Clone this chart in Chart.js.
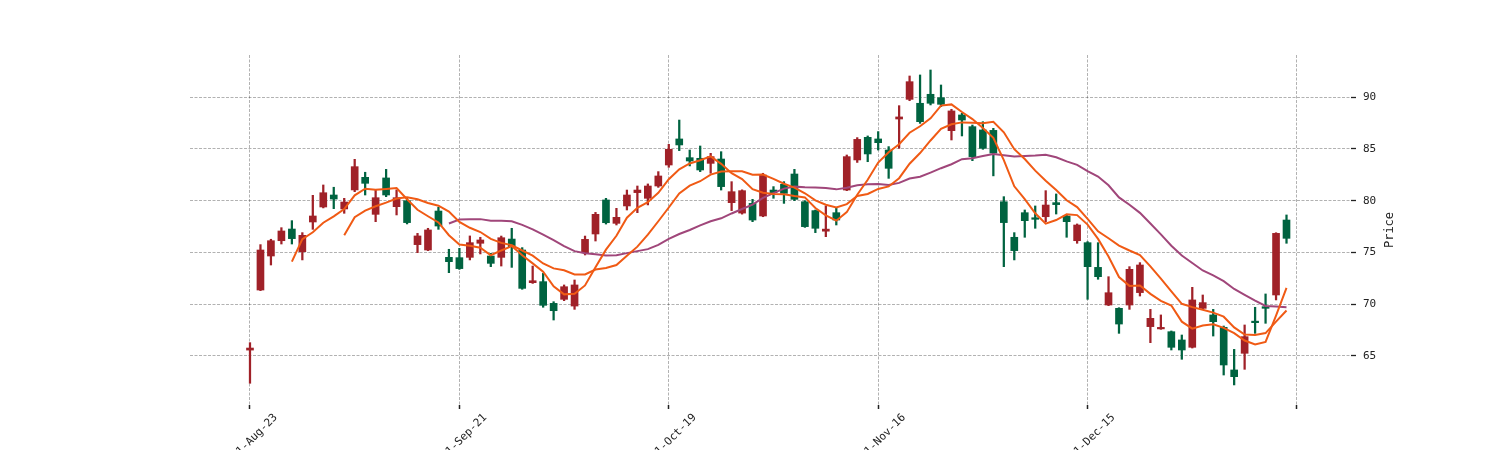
<!DOCTYPE html>
<html><head><meta charset="utf-8">
<script src="https://cdn.jsdelivr.net/npm/chart.js@4"></script>
<style>html,body{margin:0;padding:0;background:#fff}#wrap{width:1500px;height:450px;position:relative}</style>
</head><body><div id="wrap"><canvas id="c"></canvas></div>
<script>
const dates = [
'2021-08-23','2021-08-24','2021-08-25','2021-08-26','2021-08-27','2021-08-30','2021-08-31',
'2021-09-01','2021-09-02','2021-09-03','2021-09-07','2021-09-08','2021-09-09','2021-09-10','2021-09-13','2021-09-14','2021-09-15','2021-09-16','2021-09-17','2021-09-20','2021-09-21','2021-09-22','2021-09-23','2021-09-24','2021-09-27','2021-09-28','2021-09-29','2021-09-30',
'2021-10-01','2021-10-04','2021-10-05','2021-10-06','2021-10-07','2021-10-08','2021-10-11','2021-10-12','2021-10-13','2021-10-14','2021-10-15','2021-10-18','2021-10-19','2021-10-20','2021-10-21','2021-10-22','2021-10-25','2021-10-26','2021-10-27','2021-10-28','2021-10-29',
'2021-11-01','2021-11-02','2021-11-03','2021-11-04','2021-11-05','2021-11-08','2021-11-09','2021-11-10','2021-11-11','2021-11-12','2021-11-15','2021-11-16','2021-11-17','2021-11-18','2021-11-19','2021-11-22','2021-11-23','2021-11-24','2021-11-26','2021-11-29','2021-11-30',
'2021-12-01','2021-12-02','2021-12-03','2021-12-06','2021-12-07','2021-12-08','2021-12-09','2021-12-10','2021-12-13','2021-12-14','2021-12-15','2021-12-16','2021-12-17','2021-12-20','2021-12-21','2021-12-22','2021-12-23','2021-12-27','2021-12-28','2021-12-29','2021-12-30','2021-12-31',
'2022-01-03','2022-01-04','2022-01-05','2022-01-06','2022-01-07','2022-01-10','2022-01-11','2022-01-12'];

const opens = [65.55,71.36,74.65,76.13,77.26,75.07,77.94,79.39,80.55,79.2,
81.04,82.26,78.68,82.20,79.42,80.0,75.75,75.23,79.0,74.52,
74.49,74.52,75.88,74.65,74.52,76.29,75.23,72.07,72.17,70.07,
70.46,69.81,74.97,76.78,80.07,77.81,79.49,80.78,80.23,81.42,
83.45,85.97,84.16,84.10,83.61,84.03,79.81,78.8,79.74,78.52,
81.03,81.58,82.58,79.9,79.04,77.05,78.84,81.03,83.94,86.13,
85.97,84.9,87.9,89.8,89.42,90.29,89.96,86.77,88.29,87.16,
86.84,86.8,79.9,76.46,78.84,78.35,78.45,79.81,78.52,76.13,
75.94,73.55,69.91,69.59,69.91,71.11,67.82,67.6,67.33,66.53,
65.82,69.59,68.95,67.75,63.63,65.24,68.35,69.75,70.88,78.13];
const highs = [66.27,75.75,76.27,77.39,78.07,76.91,80.52,81.52,81.3,80.23,
84.0,82.75,81.04,83.03,81.04,80.23,76.84,77.33,79.36,75.30,
75.39,76.59,76.46,74.91,76.58,77.33,75.46,73.68,72.97,70.23,
71.85,72.33,76.58,78.87,80.23,79.26,81.03,81.42,81.62,82.81,
85.45,87.8,84.90,85.29,84.58,84.74,81.84,81.05,80.13,82.65,
81.36,81.84,83.03,80.0,79.1,79.49,79.26,84.42,86.1,86.26,
86.68,85.23,89.19,92.06,92.16,92.64,91.19,88.84,88.45,87.32,
87.64,87.0,80.39,76.91,79.1,79.49,80.97,80.65,78.62,77.75,
76.04,75.94,72.65,69.65,73.62,74.01,69.49,68.95,67.4,67.01,
71.62,70.88,69.49,67.88,65.62,67.98,69.69,70.98,76.9,78.62];
const lows = [62.34,71.3,73.78,75.81,75.81,74.27,77.23,79.3,79.23,78.78,
80.87,80.55,77.97,80.39,78.62,77.75,74.97,75.17,77.23,73.04,
73.36,74.27,74.85,73.62,73.68,73.55,71.43,72.0,69.69,68.46,
70.33,69.49,74.75,76.10,77.74,77.65,79.1,78.84,79.59,81.29,
83.23,84.84,83.36,82.81,82.65,81.03,79.04,78.7,77.97,78.45,
80.23,79.74,80.0,77.42,76.91,76.52,77.65,80.97,83.7,83.77,
84.9,82.16,85.06,89.67,87.48,89.26,89.09,85.87,86.26,83.87,
84.97,82.4,73.62,74.27,76.46,77.33,77.97,78.71,76.46,75.88,
70.46,72.4,69.85,67.17,69.49,70.78,66.27,67.56,65.56,64.66,
65.75,69.5,66.91,63.14,62.18,63.69,67.17,68.14,70.4,75.88];
const closes = [65.75,75.23,76.13,77.07,76.33,76.65,78.52,80.77,80.16,79.87,
83.29,81.68,80.29,80.55,80.29,77.88,76.59,77.17,77.55,74.10,
73.43,75.94,76.2,73.94,76.42,75.55,71.52,72.26,69.88,69.36,
71.68,71.85,76.26,78.68,77.87,78.39,80.55,81.03,81.42,82.39,
84.97,85.39,83.84,82.97,84.26,81.36,80.87,80.97,78.13,82.48,
80.78,80.71,80.13,77.49,77.33,77.25,78.13,84.26,85.93,84.52,
85.61,83.13,88.1,91.51,87.64,89.42,89.32,88.68,87.8,84.26,
85.06,84.6,77.88,75.17,78.07,78.2,79.58,79.62,77.97,77.65,
73.62,72.65,71.1,68.07,73.36,73.78,68.62,67.72,65.82,65.56,
70.4,70.14,68.3,64.11,62.98,66.85,68.2,69.59,76.84,76.36];

const tickIndex = [0,20,40,60,80,100];
const tickLabels = ['2021-Aug-23','2021-Sep-21','2021-Oct-19','2021-Nov-16','2021-Dec-15',''];
const yTicks = [65,70,75,80,85,90];
const mavPeriods = [5,10,20];
const mavColors = ['#F05A14','#F05A14','#A0467A'];

const UP = '#A02128', DOWN = '#006340';
const candleColors = closes.map((c,i)=> c >= opens[i] ? UP : DOWN);

function movingAverage(p){
  return closes.map((_,i)=>{
    if(i < p-1) return {x:i, y:null};
    let s = 0; for(let k=i-p+1;k<=i;k++) s += closes[k];
    return {x:i, y:s/p};
  });
}

const lineSets = mavPeriods.map((p,k)=>({
  type:'line', label:'MA'+p, data: movingAverage(p),
  borderColor: mavColors[k], borderWidth: 2, pointRadius: 0,
  fill:false, tension:0, spanGaps:false, order:0
}));

const wickSet = {
  type:'bar', label:'wick',
  data: dates.map((d,i)=>({x:i, y:[lows[i], highs[i]]})),
  backgroundColor: candleColors, borderWidth:0,
  barThickness: 1.6, grouped:false, order:2
};
const bodySet = {
  type:'bar', label:'body',
  data: dates.map((d,i)=>({x:i, y:[opens[i], closes[i]]})),
  backgroundColor: candleColors, borderWidth:0,
  barThickness: 7, minBarLength: 1.5, grouped:false, order:1
};

const GRID = 'rgba(0,0,0,0.38)';
const FONT = '"DejaVu Sans Mono", monospace';

const labelPlugin = {
  id:'customLabels',
  afterDraw(chart){
    const ctx = chart.ctx, xs = chart.scales.x, area = chart.chartArea;
    ctx.save();
    ctx.font = '11px ' + FONT;
    ctx.fillStyle = '#222';
    ctx.textAlign = 'center'; ctx.textBaseline = 'middle';
    tickIndex.forEach((t,k)=>{
      const s = tickLabels[k]; if(!s) return;
      const L = ctx.measureText(s).width, h = 11;
      const half = (L+h)/(2*Math.SQRT2);
      const cx = xs.getPixelForValue(t), cy = area.bottom + 7 + half;
      ctx.save(); ctx.translate(cx,cy); ctx.rotate(-Math.PI/4); ctx.fillText(s,0,0); ctx.restore();
    });
    ctx.font = '12px ' + FONT;
    ctx.translate(area.right + 39, (area.top+area.bottom)/2);
    ctx.rotate(-Math.PI/2);
    ctx.fillText('Price',0,0);
    ctx.restore();
  }
};

new Chart(document.getElementById('c'), {
  data: { datasets: [...lineSets, bodySet, wickSet] },
  options: {
    responsive:true, maintainAspectRatio:false, animation:false, devicePixelRatio:1,
    layout:{ padding:{ left:190, top:55, right:89, bottom:0 } },
    plugins:{ legend:{display:false}, tooltip:{enabled:false} },
    scales:{
      x:{
        type:'linear', position:'bottom', min:-5.73, max:105.16, offset:false,
        afterBuildTicks(s){ s.ticks = tickIndex.map(v=>({value:v})); },
        afterFit(s){ s.height = 45; },
        ticks:{ display:false },
        grid:{ offset:false, color:GRID, lineWidth:0.8, drawTicks:true, tickLength:4,
               tickColor:'#222', tickWidth:1.5, tickBorderDash:[] },
        border:{ display:false, dash:[3,1.5] }
      },
      y:{
        type:'linear', position:'right', min:60.24, max:94.09,
        afterBuildTicks(s){ s.ticks = yTicks.map(v=>({value:v})); },
        afterFit(s){ s.width = 60; },
        ticks:{ color:'#222', font:{ family:FONT, size:11 }, padding:7 },
        grid:{ color:GRID, lineWidth:0.8, drawTicks:true, tickLength:5,
               tickColor:'#222', tickWidth:1.3, tickBorderDash:[] },
        border:{ display:false, dash:[3,1.5] }
      }
    }
  },
  plugins:[labelPlugin]
});
</script>
</body></html>
